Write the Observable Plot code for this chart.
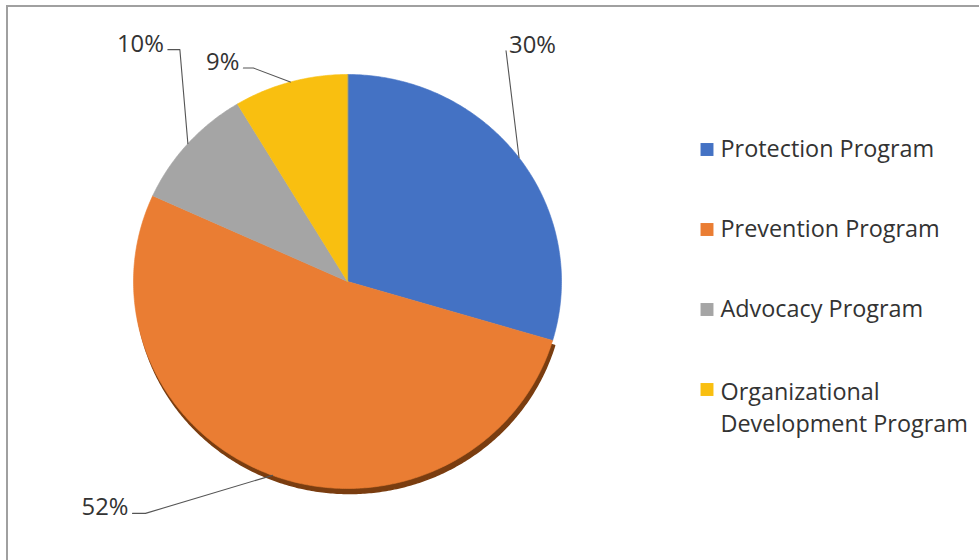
<!DOCTYPE html>
<html><head><meta charset="utf-8">
<script src="https://cdn.jsdelivr.net/npm/d3@7"></script>
<script src="https://cdn.jsdelivr.net/npm/@observablehq/plot@0.6"></script>
<style>
html,body{margin:0;padding:0;background:#fff;overflow:hidden;width:979px;height:560px;}
#wrap{position:relative;width:979px;height:560px;overflow:hidden;}
#border{position:absolute;left:6px;top:5px;width:1200px;height:800px;border-left:2px solid #a0a0a0;border-top:2px solid #a0a0a0;}
.layer{position:absolute;left:0;top:0;}
</style></head><body><div id="wrap"><div id="border"></div></div>
<script>
// ---- data ----
const categories = ["Protection Program", "Prevention Program", "Advocacy Program", "Organizational\nDevelopment Program"];
const values = [29.6, 52.2, 9.6, 8.6];   // estimated shares (%), labelled 30%, 52%, 10%, 9%
const percentLabels = ["30%", "52%", "10%", "9%"];
// ---- style / layout ----
const colors = ["#4472C4", "#EA7D33", "#A5A5A5", "#F9BF10"];
const FONT = "'Open Sans', sans-serif";
const FS = 23.4;
const LFS = 23.8;
const LH = 1.37;
// leader elbow offsets (px) from slice mid-arc point, horizontal tail (px), side of text
const labelLayout = [
  {dx: -13, dy: -107, tail: 0, side: "right"},
  {dx: -127, dy: 38, tail: -13, side: "left"},
  {dx: -8, dy: -94, tail: -12, side: "left"},
  {dx: -37, dy: -14, tail: -10, side: "left"}
];
const X0 = 133, X1 = 561, Y0 = 74, Y1 = 488;
const kx = 2 / (X1 - X0), ky = 2 / (Y1 - Y0);

const arcs = d3.pie().sort(null).value(d => d)(values);
const slicePts = [];
arcs.forEach((a, i) => {
  const name = categories[i];
  slicePts.push({name, x: 0, y: 0});
  const n = Math.max(4, Math.ceil((a.endAngle - a.startAngle) / 0.01));
  for (let k = 0; k <= n; k++) {
    const t = a.startAngle + (a.endAngle - a.startAngle) * k / n;
    slicePts.push({name, x: Math.sin(t), y: -Math.cos(t)});
  }
});
const shadowPts = slicePts.filter(d => d.name === categories[1]);

const leaderPts = [], labelPts = [];
arcs.forEach((a, i) => {
  const m = (a.startAngle + a.endAngle) / 2;
  const ax = Math.sin(m), ay = -Math.cos(m);
  const L = labelLayout[i];
  const ex = ax + L.dx * kx, ey = ay + L.dy * ky;
  const tx = ex + L.tail * kx;
  leaderPts.push({id: i, x: ax, y: ay}, {id: i, x: ex, y: ey}, {id: i, x: tx, y: ey});
  labelPts.push({
    text: percentLabels[i], side: L.side,
    x: L.side === "left" ? tx - 4 * kx : ex + 3 * kx,
    y: ey - 5.5 * ky
  });
});

const pie = Plot.plot({
  width: 979, height: 560, margin: 0,
  style: {fontFamily: FONT, background: "transparent", overflow: "visible"},
  x: {domain: [-1, 1], range: [X0, X1], axis: null},
  y: {domain: [-1, 1], range: [Y0, Y1], axis: null},
  color: {domain: categories, range: colors},
  marks: [
    Plot.line(shadowPts, {x: "x", y: "y", curve: "linear-closed", fill: "#7A3D10", stroke: "#7A3D10", dx: 2, dy: 5}),
    Plot.line(slicePts, {x: "x", y: "y", z: "name", fill: "name", stroke: "name", strokeWidth: 0.6, curve: "linear-closed"}),
    Plot.line(leaderPts, {x: "x", y: "y", z: "id", stroke: "#555", strokeWidth: 1.1}),
    Plot.text(labelPts.filter(d => d.side === "left"), {x: "x", y: "y", text: "text", textAnchor: "end", fontSize: LFS, fill: "#333"}),
    Plot.text(labelPts.filter(d => d.side === "right"), {x: "x", y: "y", text: "text", textAnchor: "start", fontSize: LFS, fill: "#333"})
  ]
});
pie.classList.add("layer");

const singleLine = categories.filter(d => !d.includes("\n"));
const multiLine = categories.filter(d => d.includes("\n"));
const legend = Plot.plot({
  width: 979, height: 560, margin: 0,
  style: {fontFamily: FONT, background: "transparent", overflow: "visible"},
  x: {domain: [0, 1], range: [706.5, 720], axis: null},
  y: {type: "point", domain: categories, range: [148, 389], padding: 0, axis: null},
  color: {domain: categories, range: colors},
  marks: [
    Plot.dot(categories, {x: () => 0, y: d => d, fill: d => d, symbol: "square", r: 7.3}),
    Plot.text(singleLine, {x: () => 1, y: d => d, text: d => d, textAnchor: "start", lineAnchor: "middle", fontSize: FS, fill: "#333"}),
    Plot.text(multiLine, {x: () => 1, y: d => d, text: d => d, textAnchor: "start", lineAnchor: "middle", lineHeight: LH, dy: LH * FS / 2, fontSize: FS, fill: "#333"})
  ]
});
legend.classList.add("layer");

const wrap = document.getElementById("wrap");
wrap.appendChild(pie);
wrap.appendChild(legend);
</script>
</body></html>
